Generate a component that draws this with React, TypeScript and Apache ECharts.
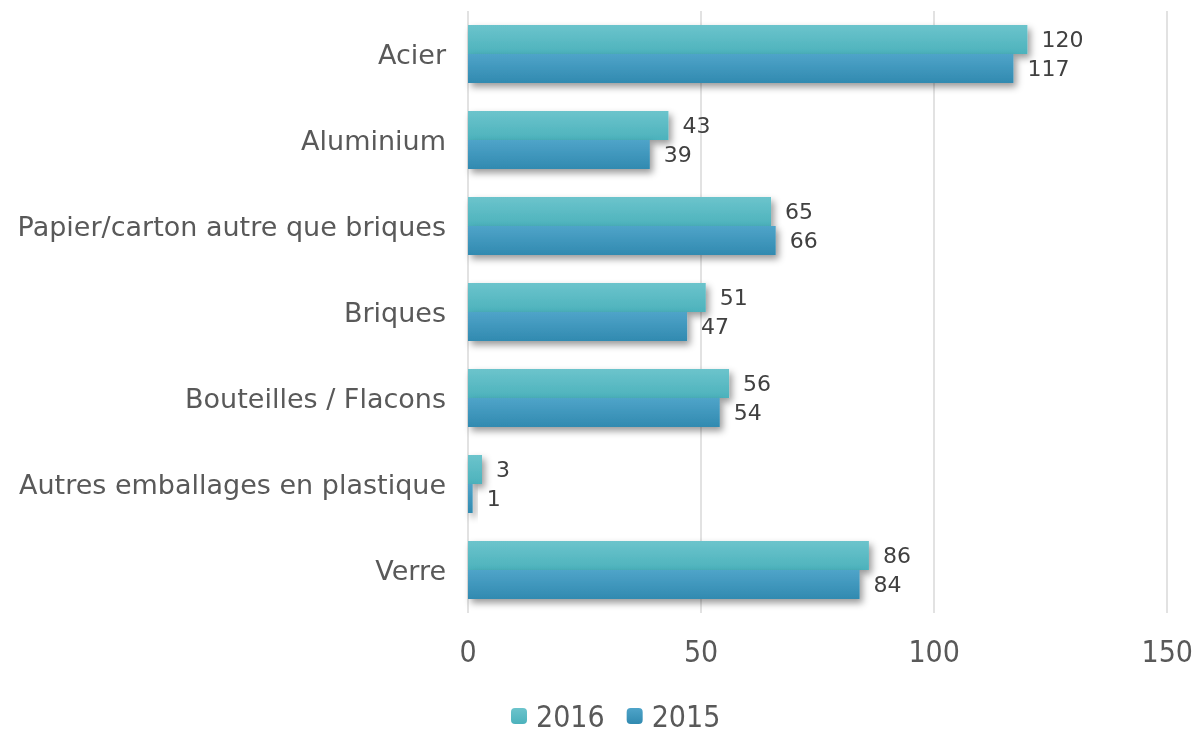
import React, { useEffect, useRef } from "react";
import * as echarts from "echarts";

const categories = [
  "Acier",
  "Aluminium",
  "Papier/carton autre que briques",
  "Briques",
  "Bouteilles / Flacons",
  "Autres emballages en plastique",
  "Verre",
];
const values2016 = [120, 43, 65, 51, 56, 3, 86];
const values2015 = [117, 39, 66, 47, 54, 1, 84];
const xTicks = { min: 0, max: 150, interval: 50 };

const grad = (top: string, bottom: string) =>
  new echarts.graphic.LinearGradient(0, 0, 0, 1, [
    { offset: 0, color: top },
    { offset: 1, color: bottom },
  ]);

export default function App() {
  const ref = useRef<HTMLDivElement>(null);
  useEffect(() => {
    if (!ref.current) return;
    const chart = echarts.init(ref.current, null, { renderer: "svg" });
    const labelStyle = {
      show: true,
      position: "right" as const,
      distance: 14,
      fontFamily: "'DejaVu Sans', sans-serif",
      fontSize: 22,
      color: "#404040",
    };
    const shadow = {
      shadowColor: "rgba(0,0,0,0.4)",
      shadowBlur: 7,
      shadowOffsetX: 3,
      shadowOffsetY: 4,
    };
    const narrow = "'Liberation Sans Narrow', 'DejaVu Sans Condensed', sans-serif";
    chart.setOption({
      animation: false,
      grid: { left: 468, right: 28, top: 11, bottom: 120, containLabel: false },
      legend: {
        top: 700,
        left: 511,
        padding: 0,
        itemWidth: 16,
        itemHeight: 16,
        itemGap: 22,
        textStyle: {
          fontFamily: narrow,
          fontSize: 30,
          lineHeight: 32,
          color: "#595959",
          padding: [0, 0, 0, 4],
        },
        data: ["2016", "2015"],
      },
      xAxis: {
        type: "value",
        min: xTicks.min,
        max: xTicks.max,
        interval: xTicks.interval,
        axisLine: { show: false },
        axisTick: { show: false },
        splitLine: { show: true, lineStyle: { color: "#d9d9d9", width: 1.5 } },
        axisLabel: {
          margin: 23,
          fontFamily: narrow,
          fontSize: 30,
          color: "#595959",
        },
      },
      yAxis: {
        type: "category",
        inverse: true,
        data: categories,
        axisLine: { show: false },
        axisTick: { show: false },
        axisLabel: {
          margin: 22,
          fontFamily: "'DejaVu Sans', sans-serif",
          fontSize: 27,
          color: "#595959",
          padding: [0, 0, 8, 0],
        },
      },
      series: [
        {
          name: "2016",
          type: "bar",
          data: values2016,
          barWidth: 29,
          barGap: "0%",
          itemStyle: { color: grad("#6cc4cc", "#4cb2bc"), ...shadow },
          label: labelStyle,
        },
        {
          name: "2015",
          type: "bar",
          data: values2015,
          barWidth: 29,
          itemStyle: { color: grad("#4fa4c9", "#318ab0"), ...shadow },
          label: labelStyle,
        },
      ],
    });
    return () => chart.dispose();
  }, []);
  return (
    <div
      ref={ref}
      style={{ position: "fixed", left: 0, top: 0, width: 1196, height: 733 }}
    />
  );
}
